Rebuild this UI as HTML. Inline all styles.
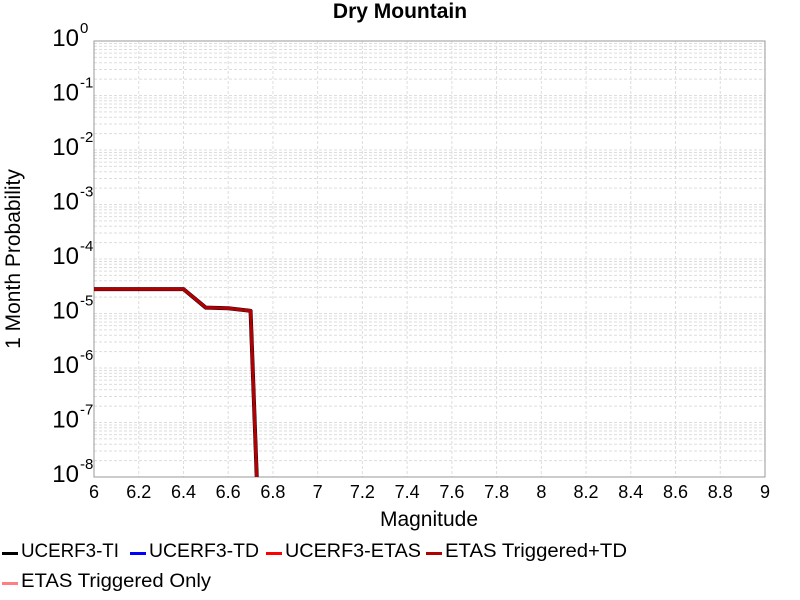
<!DOCTYPE html>
<html><head><meta charset="utf-8"><style>
body{margin:0;background:#fff;width:800px;height:600px;overflow:hidden;font-family:"Liberation Sans",sans-serif}
svg{display:block}
</style></head><body>
<svg id="c" width="800" height="600" xmlns="http://www.w3.org/2000/svg">
<text x="400" y="18" text-anchor="middle" font-size="21" font-weight="bold">Dry Mountain</text>
<g id="grid"></g>
<rect x="94" y="41" width="671" height="436" fill="none" stroke="#999" stroke-width="1"/>
<g id="series"></g>
<g id="yticks"></g>
<g id="xticks"></g>
<text x="429" y="526" text-anchor="middle" font-size="21">Magnitude</text>
<text transform="translate(20,259) rotate(-90)" text-anchor="middle" font-size="21">1 Month Probability</text>
<g id="legend"></g>
</svg>
<script>
const magnitudes=[6.0,6.1,6.2,6.3,6.4,6.5,6.6,6.7,6.8];
const probTI=[2.8e-5,2.8e-5,2.8e-5,2.8e-5,2.8e-5,1.28e-5,1.25e-5,1.12e-5,1e-16];
const probTD=[2.8e-5,2.8e-5,2.8e-5,2.8e-5,2.8e-5,1.28e-5,1.25e-5,1.12e-5,1e-16];
const probETAS=[2.8e-5,2.8e-5,2.8e-5,2.8e-5,2.8e-5,1.28e-5,1.25e-5,1.12e-5,1e-16];
const probTrigTD=[2.8e-5,2.8e-5,2.8e-5,2.8e-5,2.8e-5,1.28e-5,1.25e-5,1.12e-5,1e-16];
const xTicks=[6,6.2,6.4,6.6,6.8,7,7.2,7.4,7.6,7.8,8,8.2,8.4,8.6,8.8,9];
const yExps=[0,-1,-2,-3,-4,-5,-6,-7,-8];
const legendLabels=["UCERF3-TI","UCERF3-TD","UCERF3-ETAS","ETAS Triggered+TD","ETAS Triggered Only"];
const legendColors=["#000","#0000ff","#ff0000","#b00000","#ff8080"];

const NS="http://www.w3.org/2000/svg";
const X0=94,X1=765,Y0=41,Y1=477;
const xs=v=>X0+(v-6)/3*(X1-X0);
const ys=v=>Y0+(-Math.log10(v))/8*(Y1-Y0);
function mk(t,a,p){const e=document.createElementNS(NS,t);for(const k in a)e.setAttribute(k,a[k]);p.appendChild(e);return e;}
const grid=document.getElementById('grid');
for(let d=0;d<8;d++){for(let m=1;m<=9;m++){const v=m*Math.pow(10,-d-1);const y=ys(v);
 const l=mk('line',{x1:X0,x2:X1,y1:y,y2:y,stroke:'#ddd','stroke-dasharray':'3,2','stroke-width':1},grid);
 
 }}
xTicks.forEach(t=>{const x=xs(t);
 const l=mk('line',{x1:x,x2:x,y1:Y0,y2:Y1,stroke:'#ddd','stroke-dasharray':'3,2','stroke-width':1},grid);
 
 
 const tx=mk('text',{x:x,y:498,'text-anchor':'middle','font-size':18},document.getElementById('xticks'));
 tx.textContent=String(t);
 
 });
yExps.forEach(e=>{const y=ys(Math.pow(10,e));
 const tx=mk('text',{x:79,y:y+5,'text-anchor':'end','font-size':24},document.getElementById('yticks'));
 tx.textContent='10';
 
 
 const s=mk('text',{x:80,y:y-8,'font-size':15},document.getElementById('yticks'));
 s.textContent=e===0?' 0':String(e);
 
 });
const clip=mk('clipPath',{id:'pc'},document.getElementById('c'));mk('rect',{x:X0,y:Y0,width:X1-X0,height:Y1-Y0},clip);
const ser=document.getElementById('series');ser.setAttribute('clip-path','url(#pc)');
[[probTI,'#000','series-ucerf3-ti'],[probTD,'#0000ff','series-ucerf3-td'],[probETAS,'#ff0000','series-ucerf3-etas'],[probTrigTD,'#b00000','series-etas-triggered-td']].forEach(([arr,c,n],i)=>{
 const pts=arr.map((v,j)=>xs(magnitudes[j])+','+ys(v)).join(' ');
 const p=mk('polyline',{points:pts,fill:'none',stroke:c,'stroke-width':i===0?4:3,'stroke-linejoin':'round'},ser);
 
 });
const lg=document.getElementById('legend');
const pos=[[2,557],[130,557],[266,557],[426,557],[2,587]];
const textW=[98,110,136,182,190];
legendLabels.forEach((t,i)=>{const [x,y]=pos[i];
 const g=mk('g',{},lg);
 
 
 mk('rect',{x:x,y:y-5,width:16,height:3,fill:legendColors[i]},g);
 const tx=mk('text',{x:x+19,y:y,'font-size':19,textLength:textW[i],lengthAdjust:'spacingAndGlyphs'},g);tx.textContent=t;});
</script>
</body></html>
